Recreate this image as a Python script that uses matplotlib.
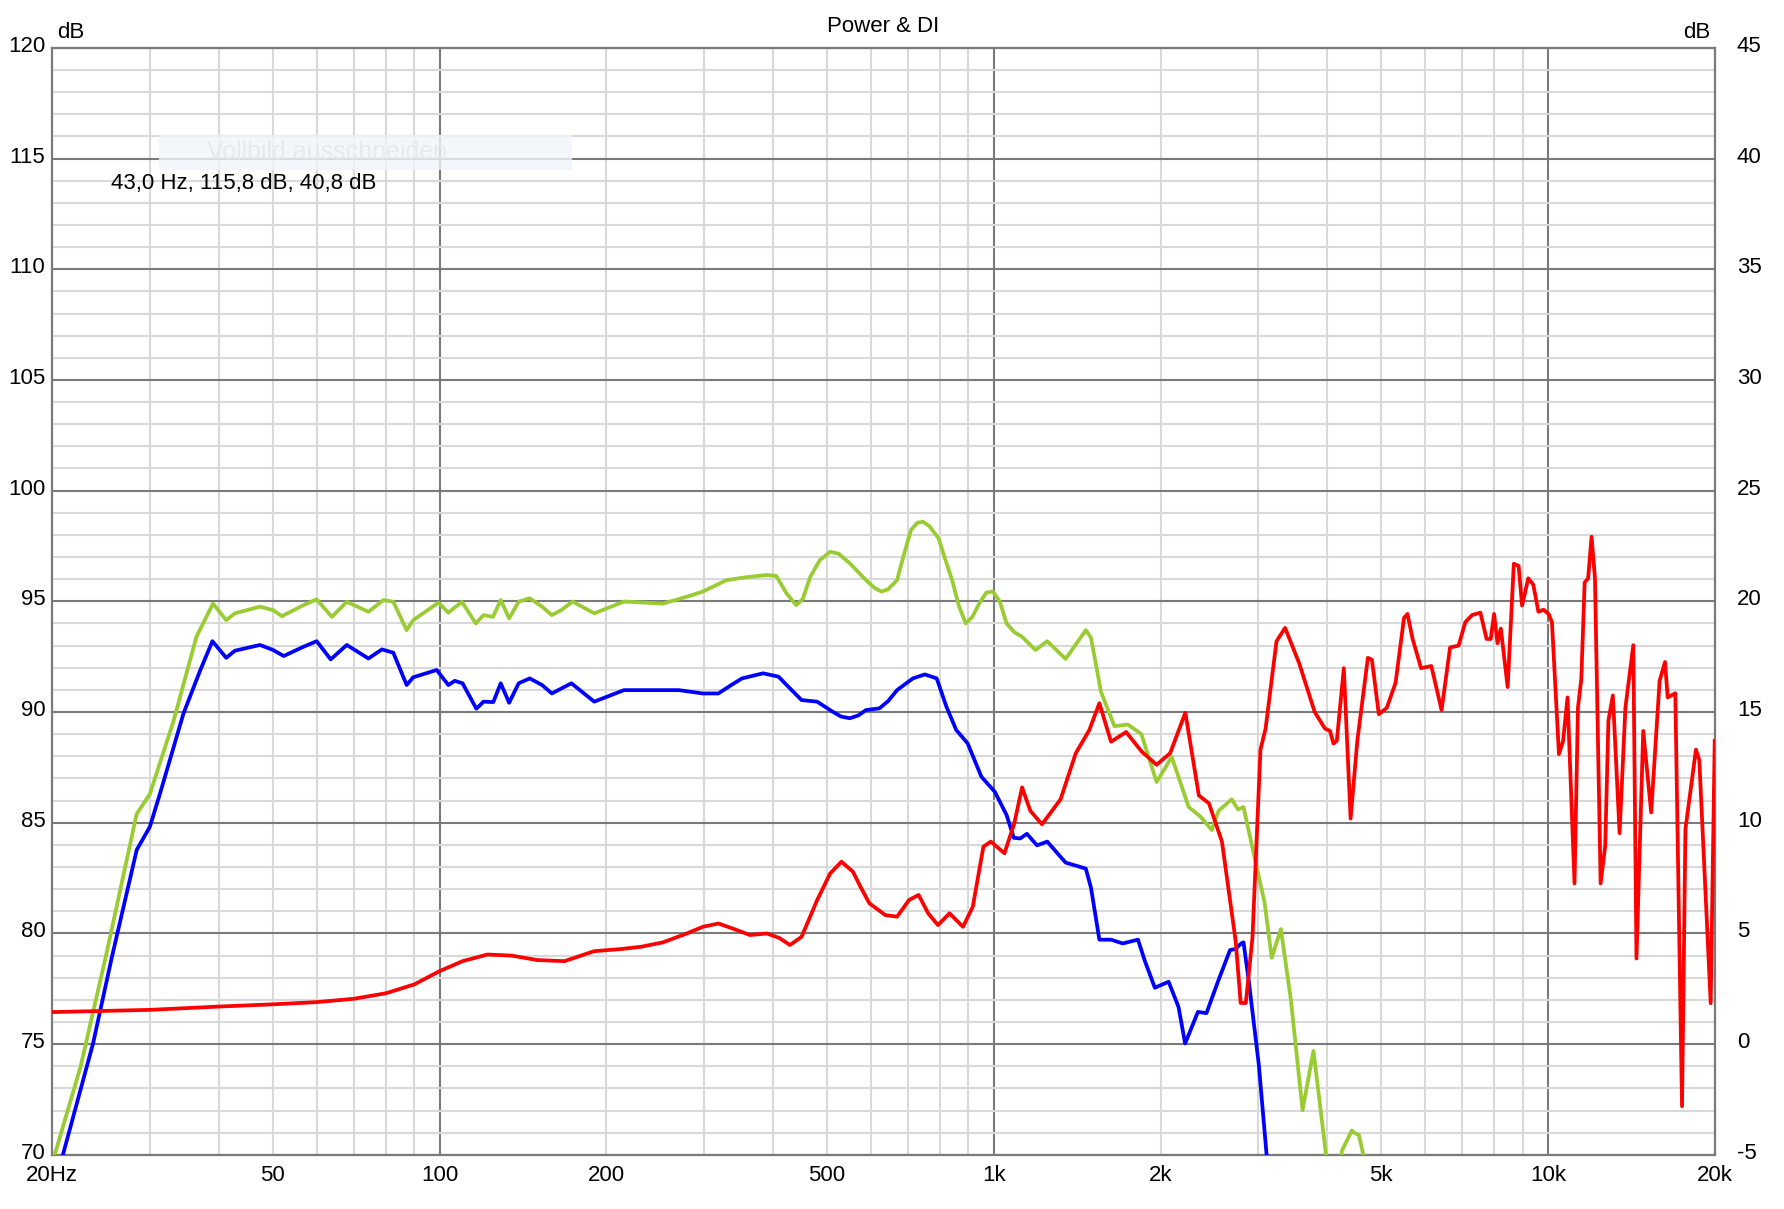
import numpy as np
import matplotlib
matplotlib.use("Agg")
import matplotlib.pyplot as plt
import matplotlib.transforms as mtransforms
from matplotlib.ticker import FixedLocator, FixedFormatter
from matplotlib.patches import Rectangle

plt.rcParams['font.family'] = ['Liberation Sans', 'DejaVu Sans']
plt.rcParams['axes.unicode_minus'] = False

# ---------------- data ----------------
green_f = [20.2, 22.5, 25.0, 28.4, 30.0, 33.1, 36.4, 39.0, 41.2, 42.7, 47.4, 50.1, 51.9, 56.8,
           60.0, 63.9, 68.0, 74.4, 79.2, 82.5, 87.2, 89.6, 99.5, 103.7, 109.7, 116.2, 120,
           124.8, 128.9, 133.5, 138.9, 145.4, 153.1, 159.4, 165.7, 173.8, 190.1, 215.1, 253,
           279.3, 298.4, 329.5, 360, 389.5, 405, 422.7, 440, 452, 466.6, 485, 506.7, 525, 549.9,
           587.9, 610, 627.2, 645, 669.1, 690, 709, 728, 744.6, 765, 795, 815, 841.1, 865, 890,
           915, 941.6, 970, 996.4, 1025, 1054.7, 1090, 1125, 1189, 1249, 1348, 1466,
           1498, 1562, 1651, 1746, 1847, 1967, 2095, 2248, 2360, 2475, 2545, 2688, 2760, 2823,
           2965, 3081, 3174, 3297, 3436, 3608, 3775, 3978, 4140, 4250, 4428, 4470, 4560, 4645,
           4800]
green_db = [70.0, 74.0, 79.0, 85.4, 86.3, 89.6, 93.4, 94.9, 94.15, 94.46, 94.76, 94.6, 94.33,
            94.83, 95.09, 94.3, 94.98, 94.53, 95.06, 94.98, 93.7, 94.15, 94.94, 94.49, 94.98,
            94.0, 94.38, 94.3, 95.06, 94.23, 94.99, 95.14, 94.76, 94.38, 94.6, 94.99, 94.46,
            94.99, 94.9, 95.21, 95.44, 95.96, 96.1, 96.19, 96.15, 95.36, 94.83, 95.1, 96.11,
            96.85, 97.24, 97.15, 96.72, 95.96, 95.6, 95.44, 95.55, 95.96, 97.2, 98.22, 98.55,
            98.6, 98.4, 97.85, 97.0, 95.96, 94.8, 94.0, 94.3, 94.91, 95.4, 95.44, 95.0, 94.0,
            93.6, 93.4, 92.8, 93.2, 92.4, 93.7, 93.35, 90.9, 89.36, 89.44, 89.0, 86.84, 87.97,
            85.71, 85.28, 84.67, 85.54, 86.06, 85.6, 85.71, 83.28, 81.4, 78.9, 80.2, 77.03,
            72.02, 74.7, 70.0, 67.0, 70.2, 71.1, 71.0, 70.9, 70.0, 66.0]

blue_f = [20.9, 23.7, 25.6, 28.4, 30.0, 31.3, 34.5, 37.0, 38.9, 41.2, 42.7, 47.4, 50.1, 52.3,
          56.8, 60.0, 63.6, 68.0, 74.4, 78.7, 82.5, 87.2, 89.6, 98.8, 103.7, 106.5, 110, 116.5,
          120, 125, 128.9, 133.5, 138.9, 145.4, 153.1, 159.4, 172.9, 190.1, 215.1, 237.5, 270.4,
          298.4, 318.5, 335, 351.3, 383.4, 408.8, 428.8, 450, 479.9, 511.6, 530, 549.9, 570,
          587.9, 622.2, 645, 669.1, 714.6, 751, 789, 821.5, 855.6, 897.1, 949.9, 1004.4, 1054.7,
          1087, 1116, 1148, 1197, 1249, 1348, 1466, 1498, 1551, 1628, 1709, 1821, 1873, 1953,
          2068, 2155, 2215, 2336, 2420, 2545, 2669, 2730, 2796, 2823, 2884, 3008, 3110, 3200]
blue_db = [70.0, 75.05, 78.9, 83.77, 84.82, 86.33, 89.94, 91.9, 93.2, 92.45, 92.77, 93.03,
           92.8, 92.53, 92.95, 93.2, 92.38, 93.03, 92.42, 92.83, 92.68, 91.22, 91.57, 91.9,
           91.22, 91.41, 91.3, 90.15, 90.47, 90.45, 91.3, 90.42, 91.3, 91.52, 91.22, 90.84,
           91.3, 90.47, 90.99, 90.99, 90.99, 90.84, 90.84, 91.2, 91.52, 91.75, 91.6, 91.07,
           90.54, 90.47, 90.02, 89.8, 89.72, 89.85, 90.09, 90.17, 90.5, 90.99, 91.52, 91.7,
           91.52, 90.24, 89.19, 88.59, 87.08, 86.4, 85.35, 84.32, 84.29, 84.5, 83.98, 84.15,
           83.2, 82.93, 82.06, 79.72, 79.72, 79.55, 79.72, 78.77, 77.55, 77.82, 76.68, 75.03,
           76.46, 76.4, 77.9, 79.25, 79.3, 79.55, 79.6, 77.9, 74.08, 69.9, 68.0]

di_f = [20, 30, 40, 50, 60, 70, 80, 90, 100, 110, 122, 135, 150, 168, 190, 213, 231, 253,
        279.3, 298.4, 318.5, 340, 363, 389.5, 410, 428.8, 450, 479.9, 506.7, 531.1, 557, 575,
        596.5, 637.3, 669.1, 703.3, 731.8, 761.6, 792.9, 832.1, 880.2, 916.6, 957.9, 988.2,
        1045.5, 1088.9, 1125, 1164, 1222, 1320, 1406, 1487, 1551, 1628, 1733, 1847, 1967,
        2081, 2217, 2345, 2445, 2581, 2733, 2790, 2850, 2930, 3029, 3094, 3238, 3356, 3558,
        3795, 3961, 4044, 4102, 4160, 4283, 4405, 4530, 4733, 4814, 4953, 5120, 5310, 5500,
        5580, 5700, 5904, 6161, 6429, 6660, 6900, 7096, 7296, 7554, 7751, 7885, 7997, 8110,
        8224, 8460, 8680, 8855, 8983, 9217, 9412, 9614, 9820, 10030, 10170, 10470, 10650,
        10850, 11170, 11330, 11490, 11650, 11820, 11990, 12160, 12450, 12690, 12860, 13100,
        13470, 13800, 14260, 14450, 14860, 15360, 15910, 16270, 16450, 16980, 17460, 17710,
        18500, 18760, 19670, 20000]
di_db = [1.45, 1.55, 1.7, 1.8, 1.9, 2.05, 2.3, 2.7, 3.3, 3.75, 4.05, 4.0, 3.8, 3.75, 4.2,
         4.3, 4.4, 4.6, 5.0, 5.3, 5.45, 5.2, 4.93, 5.0, 4.8, 4.48, 4.85, 6.5, 7.71, 8.24, 7.79,
         7.1, 6.36, 5.83, 5.76, 6.51, 6.74, 5.91, 5.38, 5.91, 5.3, 6.21, 8.92, 9.15, 8.62,
         9.97, 11.6, 10.54, 9.93, 11.06, 13.14, 14.18, 15.4, 13.66, 14.1, 13.23, 12.62, 13.14,
         14.97, 11.23, 10.88, 9.15, 4.64, 1.86, 1.86, 4.81, 13.3, 14.25, 18.2, 18.8, 17.2,
         15.0, 14.25, 14.15, 13.58, 13.7, 16.98, 10.19, 13.7, 17.45, 17.36, 14.9, 15.19,
         16.32, 19.25, 19.43, 18.3, 16.98, 17.08, 15.09, 17.92, 18.0, 19.06, 19.38, 19.49,
         18.3, 18.3, 19.43, 18.11, 18.77, 16.13, 21.7, 21.6, 19.81, 21.04, 20.75, 19.53,
         19.62, 19.43, 19.06, 13.1, 13.68, 15.66, 7.26, 15.19, 16.51, 20.85, 21.04, 22.92,
         21.04, 7.26, 8.96, 14.62, 15.75, 9.53, 15.19, 18.02, 3.87, 14.15, 10.47, 16.42,
         17.26, 15.66, 15.85, -2.8, 9.72, 13.3, 12.83, 1.85, 13.7]

x_major = [100, 1000, 10000]
x_major_labels = ["100", "1k", "10k"]
x_minor = [20, 30, 40, 50, 60, 70, 80, 90, 200, 300, 400, 500, 600, 700, 800, 900,
           2000, 3000, 4000, 5000, 6000, 7000, 8000, 9000, 20000]
x_minor_named = {20: "20Hz", 50: "50", 200: "200", 500: "500", 2000: "2k", 5000: "5k",
                 20000: "20k"}
left_ticks = list(range(70, 121, 5))
right_ticks = list(range(-5, 46, 5))

title = "Power & DI"
cursor_text = "43,0 Hz, 115,8 dB, 40,8 dB"
tooltip_text = "Vollbild ausschneiden"

# ---------------- figure ----------------
W, H = 1784, 1209
fig = plt.figure(figsize=(W / 100, H / 100), dpi=100)
fig.patch.set_facecolor("white")
L, R, T, B = 52.3, 1714.7, 47.8, 1154.9
ax = fig.add_axes([L / W, 1 - B / H, (R - L) / W, (B - T) / H])
ax.set_xscale("log")
ax.set_xlim(20, 20000)
ax.set_ylim(70, 120)

ax.xaxis.set_major_locator(FixedLocator(x_major))
ax.xaxis.set_major_formatter(FixedFormatter(x_major_labels))
ax.xaxis.set_minor_locator(FixedLocator(x_minor))
ax.xaxis.set_minor_formatter(FixedFormatter([x_minor_named.get(v, "") for v in x_minor]))
ax.yaxis.set_major_locator(FixedLocator(left_ticks))
ax.yaxis.set_minor_locator(FixedLocator([v for v in range(70, 121) if v % 5]))

dark = "#7a7a7a"
light = "#d9d9d9"
ax.grid(which="minor", color=light, lw=1.5)
ax.grid(which="major", color=dark, lw=1.5)
ax.set_axisbelow(True)
for s in ax.spines.values():
    s.set_color(dark)
    s.set_linewidth(1.6)

ax.tick_params(axis="both", which="both", length=0, labelsize=16)
ax.tick_params(axis="x", which="both", pad=7)
ax.tick_params(axis="y", which="both", pad=5)

ax.plot(green_f, green_db, color="#99cc33", lw=2.7, zorder=3, solid_joinstyle="round")
ax.plot(blue_f, blue_db, color="#0000ff", lw=2.7, zorder=3, solid_joinstyle="round")

ax2 = ax.twinx()
ax2.set_ylim(-5, 45)
ax2.yaxis.set_major_locator(FixedLocator(right_ticks))
ax2.tick_params(axis="y", length=0, labelsize=16, pad=16)
for s in ax2.spines.values():
    s.set_visible(False)
ax2.plot(di_f, di_db, color="#ff0000", lw=2.7, zorder=4, solid_joinstyle="round")

# shift y tick labels slightly upward, as in the reference
up = mtransforms.ScaledTranslation(0, 4 / 100, fig.dpi_scale_trans)
for lab in ax.get_yticklabels() + ax2.get_yticklabels():
    lab.set_transform(lab.get_transform() + up)

# texts
fig.text(883 / W, 1 - 26 / H, title, ha="center", va="center", fontsize=16)
fig.text(57 / W, 1 - 33 / H, "dB", ha="left", va="center", fontsize=16)
fig.text(1710 / W, 1 - 33 / H, "dB", ha="right", va="center", fontsize=16)

fig.patches.append(Rectangle((159 / W, 1 - 170 / H), (572 - 159) / W, 35 / H,
                             transform=fig.transFigure, facecolor="#f0f5fb",
                             edgecolor="none", alpha=0.8, zorder=5))
fig.text(207 / W, 1 - 152 / H, tooltip_text, ha="left", va="center", fontsize=18,
         color="#e6e9ee", zorder=6)
fig.text(111 / W, 1 - 184 / H, cursor_text, ha="left", va="center", fontsize=16,
         color="black", zorder=7)

fig.savefig("out.png", dpi=100)
